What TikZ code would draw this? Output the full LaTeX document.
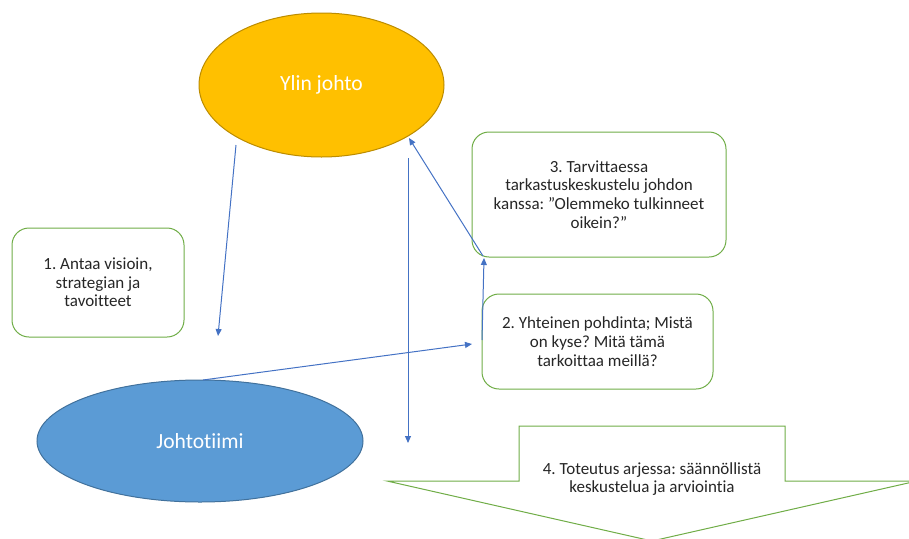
\documentclass[tikz,border=0pt]{standalone}
\usepackage{fontspec}
\setmainfont[Ligatures=NoCommon]{Carlito}
\frenchspacing
\definecolor{oranssi}{RGB}{255,192,0}
\definecolor{oranssireuna}{RGB}{188,140,0}
\definecolor{sininen}{RGB}{91,155,213}
\definecolor{sininenreuna}{RGB}{65,113,156}
\definecolor{vihrea}{RGB}{112,173,71}
\definecolor{nuoli}{RGB}{68,114,196}
\definecolor{teksti}{RGB}{38,38,38}
\usetikzlibrary{arrows.meta,positioning,shapes.geometric}

\tikzset{
  conn/.style={nuoli,line width=1,-{Triangle[length=7pt,width=6pt]}},
  boite/.style={draw=vihrea,line width=1,rounded corners=17,fill=white,
    text=teksti,align=center,inner sep=0pt},
  soikio/.style={ellipse,line width=1,text=white,
    font=\fontsize{21.6}{24}\selectfont}
}

\begin{document}
\begin{tikzpicture}[x=1pt,y=-1pt,font=\fontsize{17}{18.7}\selectfont]
  \useasboundingbox (0,0) rectangle (909,538);
  %% ellipsit
  \node[soikio,draw=oranssireuna,fill=oranssi,minimum width=245,minimum height=144]
    (ylin) at (321.5,85) {Ylin johto};
  \node[soikio,draw=sininenreuna,fill=sininen,minimum width=326,minimum height=122]
    (tiimi) at (200,441) {Johtotiimi};

  %% laatikot
  \node[boite,minimum width=172,minimum height=109] (visio) at (98,282.5)
    {1. Antaa visioin,\\strategian ja\\tavoitteet};
  \node[boite,minimum width=254,minimum height=125] (tarkastus) at (599,194.5)
    {3. Tarvittaessa\\tarkastuskeskustelu johdon\\kanssa: ”Olemmeko tulkinneet\\oikein?”};
  \node[boite,minimum width=231,minimum height=95] (pohdinta) at (597.5,341.5)
    {2. Yhteinen pohdinta; Mistä\\on kyse? Mitä tämä\\tarkoittaa meillä?};

  %% iso nuoli alas
  \draw[vihrea,line width=1,fill=white]
    (519,426) -- (785,426) -- (785,481) -- (917,481) -- (652,541)
    -- (387,481) -- (519,481) -- cycle;
  \node[text=teksti,align=center] (toteutus) at (652,479)
    {4. Toteutus arjessa: säännöllistä\\keskustelua ja arviointia};

  %% yhteydet
  \coordinate (a1s) at (236,145);
  \coordinate (a1e) at (218,336);
  \coordinate (a2s) at (203,380);
  \coordinate (a2e) at (472,344);
  \coordinate (a3s) at (408,158);
  \coordinate (a3e) at (408,443);
  \coordinate (a4s) at (483,256);
  \coordinate (a4e) at (409,138);
  \coordinate (a5s) at (482,340);
  \coordinate (a5e) at (484,258);
  \draw[conn] (a1s) -- (a1e);
  \draw[conn] (a2s) -- (a2e);
  \draw[conn] (a3s) -- (a3e);
  \draw[conn] (a4s) -- (a4e);
  \draw[conn] (a5s) -- (a5e);
\end{tikzpicture}
\end{document}
